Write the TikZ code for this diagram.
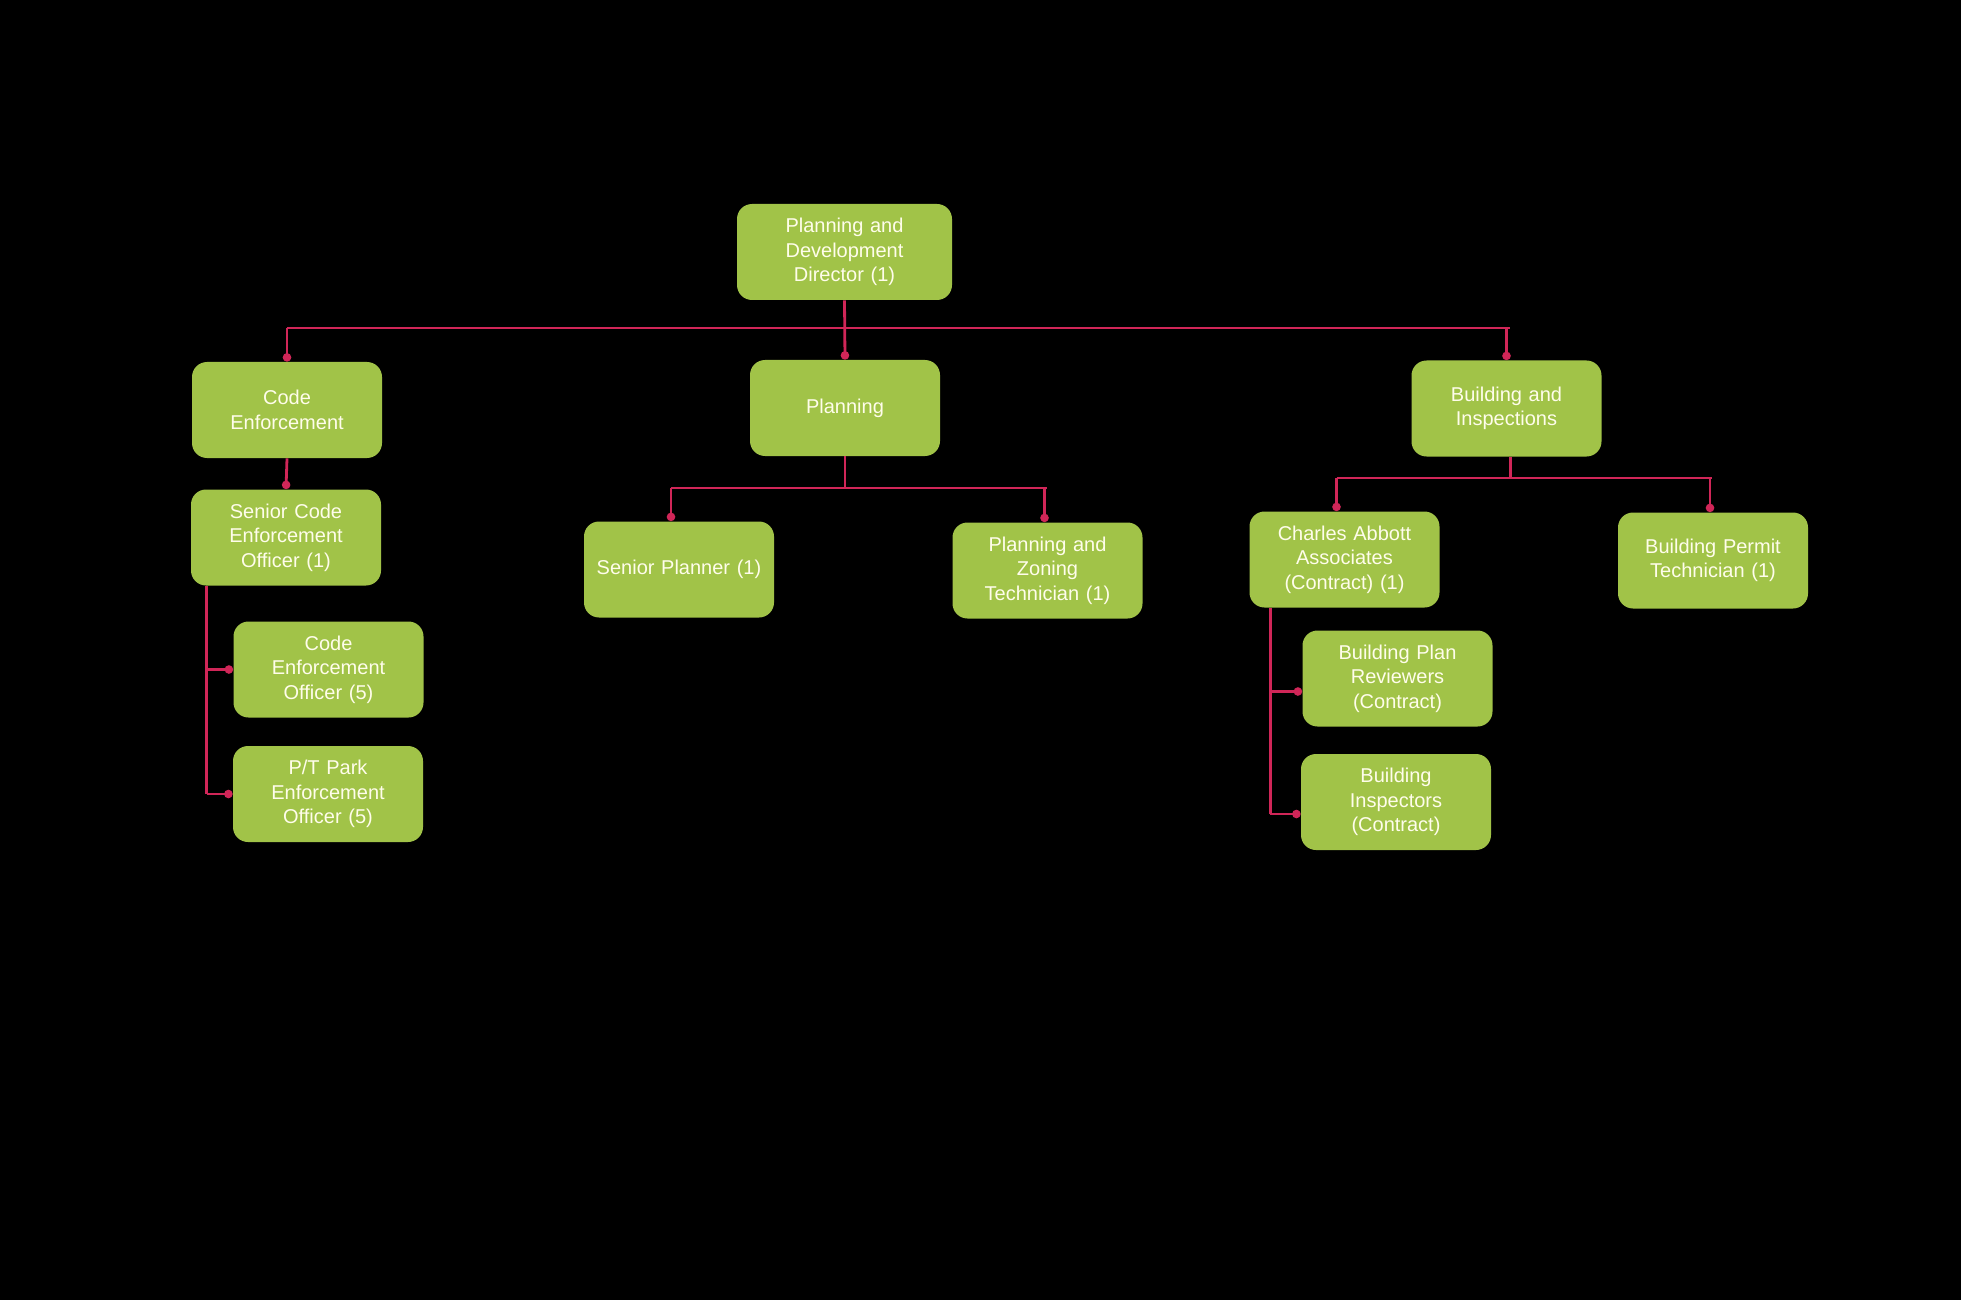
\documentclass[tikz,border=0pt]{standalone}
\usepackage{fontspec}
\setmainfont{Liberation Sans}
\usetikzlibrary{arrows.meta,calc}
\definecolor{boxgreen}{RGB}{161,195,72}
\definecolor{linepink}{RGB}{208,38,88}
\definecolor{boxtext}{RGB}{255,253,235}
\begin{document}
\begin{tikzpicture}[x=0.5pt,y=-0.5pt,
  orgbox/.style={rectangle, rounded corners=7.5pt, fill=boxgreen, draw=none,
    minimum width=95pt, minimum height=48pt, text width=88pt, align=center,
    text=boxtext, font=\fontsize{10pt}{12.2pt}\selectfont, inner sep=0pt},
  conn/.style={draw=linepink, line width=1.4pt},
  dotted end/.style={conn, -{Circle[length=4.2pt,width=4.2pt]}}]
\useasboundingbox (0,0) rectangle (1961,1300);
\fill[black] (0,0) rectangle (1961,1300);

% nodes
\node[orgbox, minimum width=107.5pt] (dir) at (844.5,252) {Planning and\\Development\\Director (1)};
\node[orgbox] (ce) at (287,410) {Code\\Enforcement};
\node[orgbox] (plan) at (845,408) {Planning};
\node[orgbox] (bi) at (1506.5,408.5) {Building and\\Inspections};
\node[orgbox] (sceo) at (286,537.5) {Senior Code\\Enforcement\\Officer (1)};
\node[orgbox] (ceo) at (328.5,669.5) {Code\\Enforcement\\Officer (5)};
\node[orgbox] (ptp) at (328,794) {P/T Park\\Enforcement\\Officer (5)};
\node[orgbox] (sp) at (679,569.5) {Senior Planner (1)};
\node[orgbox] (pzt) at (1047.5,570.5) {Planning and\\Zoning\\Technician (1)};
\node[orgbox] (caa) at (1344.5,559.5) {Charles Abbott\\Associates\\(Contract) (1)};
\node[orgbox] (bpt) at (1713,560.5) {Building Permit\\Technician (1)};
\node[orgbox] (bpr) at (1397.5,678.5) {Building Plan\\Reviewers\\(Contract)};
\node[orgbox] (bins) at (1396,802) {Building\\Inspectors\\(Contract)};

% coordinates
\coordinate (topbus) at (0,328);
\coordinate (planbus) at (0,488);
\coordinate (bibus) at (0,478);
\coordinate (sptop) at ($(sp.north)+(-8,0)$);
\coordinate (pztop) at ($(pzt.north)+(-3,0)$);
\coordinate (caatop) at ($(caa.north)+(-8,0)$);
\coordinate (bpttop) at ($(bpt.north)+(-3,0)$);
\coordinate (bisouth) at ($(bi.south)+(4,0)$);
\coordinate (sv) at ($(sceo.south west)+(16,0)$);
\coordinate (cv) at ($(caa.south west)+(21,0)$);
\coordinate (bprin) at ($(bpr.west)+(0,13)$);
\coordinate (binsin) at ($(bins.west)+(0,12)$);

% top level
\draw[conn] (ce.north |- topbus) -- ($(bi.north |- topbus)+(3,0)$);
\draw[dotted end] (dir.south) -- (plan.north);
\draw[dotted end] (ce.north |- topbus) -- (ce.north);
\draw[dotted end] (bi.north |- topbus) -- (bi.north);

% code enforcement branch
\draw[dotted end] (ce.south) -- (sceo.north);
\draw[conn] (sv) -- (sv |- ptp.west);
\draw[dotted end] (sv |- ceo.west) -- (ceo.west);
\draw[dotted end] (sv |- ptp.west) -- (ptp.west);

% planning branch
\draw[conn] (plan.south) -- (plan.south |- planbus);
\draw[conn] (sptop |- planbus) -- ($(pztop |- planbus)+(2,0)$);
\draw[dotted end] (sptop |- planbus) -- (sptop);
\draw[dotted end] (pztop |- planbus) -- (pztop);

% building branch
\draw[conn] (bisouth) -- (bisouth |- bibus);
\draw[conn] (caatop |- bibus) -- ($(bpttop |- bibus)+(2,0)$);
\draw[dotted end] (caatop |- bibus) -- (caatop);
\draw[dotted end] (bpttop |- bibus) -- (bpttop);
\draw[conn] (cv) -- (cv |- binsin);
\draw[dotted end] (cv |- bprin) -- (bprin);
\draw[dotted end] (cv |- binsin) -- (binsin);
\end{tikzpicture}
\end{document}
